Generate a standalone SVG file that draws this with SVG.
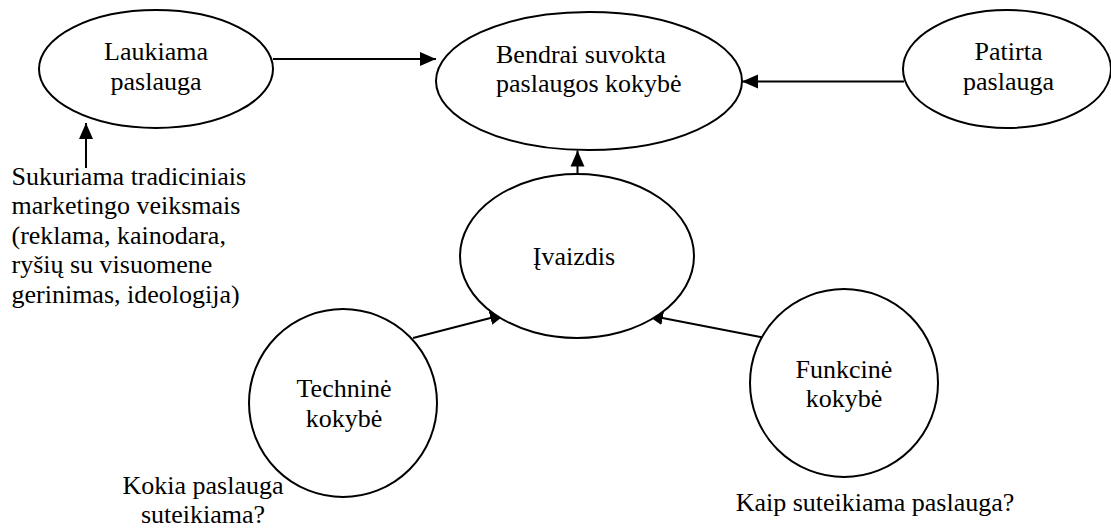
<svg xmlns="http://www.w3.org/2000/svg" width="1111" height="529" viewBox="0 0 1111 529">
  <style>
    text { font-family: "Liberation Serif", "Times New Roman", serif; font-size: 26px; fill: #000; }
    .c { text-anchor: middle; }
    .shape { fill: #fff; stroke: #000; stroke-width: 2; }
    .link { fill: none; stroke: #000; stroke-width: 2; marker-end: url(#arrow); }
  </style>
  <defs>
    <marker id="arrow" markerUnits="userSpaceOnUse" markerWidth="16" markerHeight="16" viewBox="0 0 16 14" refX="16" refY="7" orient="auto">
      <path d="M0,0 L16,7 L0,14 Z" fill="#000"/>
    </marker>
  </defs>

  <rect width="1111" height="529" fill="#fff"/>

  <!-- connectors -->
  <g id="connectors">
    <line class="link" x1="273" y1="59" x2="436" y2="59"/>
    <line class="link" x1="904" y1="81.5" x2="742" y2="81.5"/>
    <line class="link" x1="577.5" y1="175" x2="577.5" y2="150.5"/>
    <line class="link" x1="413" y1="338" x2="506" y2="314"/>
    <line class="link" x1="763" y1="337.5" x2="647" y2="315"/>
    <line class="link" x1="86" y1="168" x2="86" y2="123"/>
  </g>

  <!-- nodes -->
  <g id="laukiama">
    <ellipse class="shape" cx="156" cy="69" rx="117" ry="59"/>
    <text class="c" x="156" y="60">Laukiama</text>
    <text class="c" x="156" y="89.5">paslauga</text>
  </g>

  <g id="bendrai">
    <ellipse class="shape" cx="589" cy="81" rx="153" ry="69"/>
    <text x="496" y="62.5">Bendrai suvokta</text>
    <text x="496" y="91.5">paslaugos kokybė</text>
  </g>

  <g id="patirta">
    <ellipse class="shape" cx="1007" cy="69" rx="104" ry="59"/>
    <text class="c" x="1008.5" y="59.5">Patirta</text>
    <text class="c" x="1008.5" y="89.5">paslauga</text>
  </g>

  <g id="ivaizdis">
    <ellipse class="shape" cx="577" cy="256" rx="117" ry="82"/>
    <text class="c" x="574" y="265">Įvaizdis</text>
  </g>

  <g id="technine">
    <circle class="shape" cx="343" cy="403" r="94"/>
    <text class="c" x="344" y="397">Techninė</text>
    <text class="c" x="344" y="427">kokybė</text>
  </g>

  <g id="funkcine">
    <circle class="shape" cx="844" cy="383" r="94"/>
    <text class="c" x="844" y="377.5">Funkcinė</text>
    <text class="c" x="844" y="407">kokybė</text>
  </g>

  <!-- annotations -->
  <g id="note-laukiama">
    <text x="11.5" y="184.5">Sukuriama tradiciniais</text>
    <text x="11.5" y="214">marketingo veiksmais</text>
    <text x="11.5" y="243.5">(reklama, kainodara,</text>
    <text x="11.5" y="273">ryšių su visuomene</text>
    <text x="11.5" y="303">gerinimas, ideologija)</text>
  </g>

  <g id="note-technine">
    <text class="c" x="203" y="493.5">Kokia paslauga</text>
    <text class="c" x="203" y="523">suteikiama?</text>
  </g>

  <g id="note-funkcine">
    <text class="c" x="875" y="511">Kaip suteikiama paslauga?</text>
  </g>
</svg>
